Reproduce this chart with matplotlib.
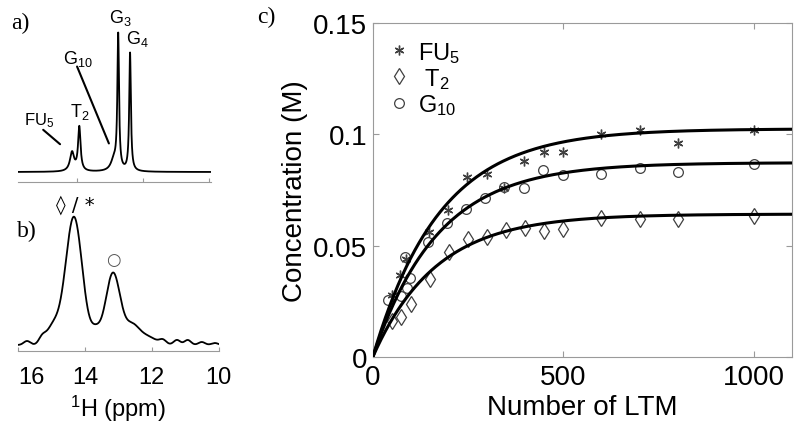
import numpy as np
import matplotlib.pyplot as plt

plt.rcParams['font.family'] = ['Liberation Sans', 'DejaVu Sans']
plt.rcParams['mathtext.default'] = 'regular'

# panel a: 1D spectrum peaks (ppm, height, width)
a_ppm = [14.15, 13.93, 12.88, 12.75, 12.39]
a_height = [19, 44, 11, 134, 118]
a_width = [0.15, 0.09, 0.22, 0.06, 0.06]
a_names = ['FU$_5$', 'T$_2$', 'G$_{10}$', 'G$_3$', 'G$_4$']

# panel b: broadened spectrum components (ppm, height, sigma)
b_ppm = [14.33, 14.95, 13.68, 13.16, 12.6, 12.2,
         15.73, 15.28, 11.67, 11.25, 10.93, 10.51, 10.12]
b_height = [128, 18, 12, 72, 16, 9,
            4, 6, 4, 5, 5, 3, 2]
b_sigma = [0.25, 0.2, 0.15, 0.22, 0.2, 0.3,
           0.1, 0.1, 0.1, 0.1, 0.1, 0.1, 0.1]

# panel c: concentrations vs number of LTM
ltm = [50, 75, 100, 150, 200, 250, 300, 350, 400, 450, 500, 600, 700, 800, 1000]
fu5_x = [50, 72, 86, 147, 197, 248, 299, 345, 397, 448, 498, 598, 700, 802, 1000]
fu5 = [0.028, 0.037, 0.044, 0.056, 0.066, 0.081, 0.082, 0.076, 0.088, 0.092,
       0.092, 0.100, 0.102, 0.096, 0.102]
g10_x = [40, 75, 84, 89, 97, 146, 196, 245, 295, 345, 396, 446, 498, 598, 700, 802, 1000]
g10 = [0.0254, 0.0276, 0.045, 0.031, 0.0356, 0.0517, 0.060, 0.0667, 0.0712,
       0.0764, 0.0761, 0.0842, 0.0817, 0.0823, 0.085, 0.083, 0.0868]
t2 = [0.016, 0.018, 0.024, 0.035, 0.047, 0.053, 0.054, 0.057, 0.058, 0.0566,
      0.0577, 0.0625, 0.0622, 0.0622, 0.0634]
# fitted curves: A * (1 - exp(-n / tau))
fit_A = [0.1025, 0.0873, 0.0642]
fit_tau = [175, 170, 165]

fig = plt.figure(figsize=(8, 4.27), dpi=100)
gray = '#9a9a9a'

# ---- panel a
axa = fig.add_axes([0.0225, 0.5714, 0.241, 0.417])
xa = np.linspace(15.79, 9.94, 2000)
ya = np.full_like(xa, 10.0)
for p, h, w in zip(a_ppm, a_height, a_width):
    ya += h / (1 + ((xa - p) / (w / 2)) ** 2)
axa.plot(xa, ya, color='black', lw=1.3)
axa.set_xlim(15.79, 9.94)
axa.set_ylim(0, 178)
axa.set_xticks([14, 12, 10])
axa.set_xticklabels([])
axa.set_yticks([])
for s in ['top', 'left', 'right']:
    axa.spines[s].set_visible(False)
axa.spines['bottom'].set_color(gray)
axa.tick_params(axis='x', direction='in', length=3, color=gray)
axa.text(12.67, 165, a_names[3], fontsize=13, ha='center', va='center')
axa.text(12.18, 144, a_names[4], fontsize=13, ha='center', va='center')
axa.text(13.97, 124, a_names[2], fontsize=13, ha='center', va='center')
axa.text(13.90, 71, a_names[1], fontsize=13, ha='center', va='center')
axa.text(15.14, 62, a_names[0], fontsize=12, ha='center', va='center')
axa.annotate('', xy=(13.0, 36), xytext=(14.03, 118),
             arrowprops=dict(arrowstyle='-', lw=1.5, color='black'))
axa.annotate('', xy=(14.45, 36), xytext=(15.09, 54),
             arrowprops=dict(arrowstyle='-', lw=1.5, color='black'))
fig.text(0.026, 0.944, 'a)', fontsize=17, family='Liberation Serif', ha='center', va='center')

# ---- panel b
axb = fig.add_axes([0.0225, 0.1756, 0.251, 0.38])
xb = np.linspace(16, 10, 1200)
yb = np.full_like(xb, 6.0)
for p, h, s in zip(b_ppm, b_height, b_sigma):
    yb += h * np.exp(-(xb - p) ** 2 / (2 * s ** 2))
axb.plot(xb, yb, color='black', lw=1.3)
axb.set_xlim(16, 10)
axb.set_ylim(0, 162)
axb.set_xticks([16, 14, 12, 10])
axb.set_yticks([])
for s in ['top', 'left', 'right']:
    axb.spines[s].set_visible(False)
axb.spines['bottom'].set_color(gray)
axb.tick_params(axis='x', direction='in', length=3, color=gray,
                labelsize=17, pad=11)
axb.get_xticklabels()[0].set_ha('left')
axb.set_xlabel('$^1$H (ppm)', fontsize=17, labelpad=3)
axb.text(14.28, 147, '\u25ca / *', fontsize=14, ha='center', va='center',
         family=['DejaVu Sans'])
axb.text(13.16, 92, '\u25cb', fontsize=12, ha='center', va='center',
         color='#555555', family=['DejaVu Sans'])
fig.text(0.034, 0.457, 'b)', fontsize=17, family='Liberation Serif', ha='center', va='center')

# ---- panel c
axc = fig.add_axes([0.466, 0.1616, 0.524, 0.782])
n = np.linspace(0, 1100, 400)
for A, tau in zip(fit_A, fit_tau):
    axc.plot(n, A * (1 - np.exp(-n / tau)), color='black', lw=2.2, zorder=3)
mk = '#404040'
h1, = axc.plot(fu5_x, fu5, ls='none', marker=(6, 2, 0), ms=7, mec=mk, mew=1.0,
               label='FU$_5$', zorder=2)
h2, = axc.plot(ltm, t2, ls='none', marker='d', ms=8, mfc='none', mec=mk, mew=0.9,
               label=' T$_2$', zorder=2)
h3, = axc.plot(g10_x, g10, ls='none', marker='o', ms=7, mfc='none', mec=mk, mew=0.9,
               label='G$_{10}$', zorder=2)
axc.set_xlim(0, 1100)
axc.set_ylim(0, 0.15)
axc.set_xticks([0, 500, 1000])
axc.set_yticks([0, 0.05, 0.1, 0.15])
axc.set_yticklabels(['0', '0.05', '0.1', '0.15'])
for s in axc.spines.values():
    s.set_color(gray)
axc.tick_params(direction='in', length=4, color=gray, labelsize=20,
                top=True, right=True)
axc.tick_params(axis='x', pad=5)
axc.tick_params(axis='y', pad=4)
axc.set_xlabel('Number of LTM', fontsize=20, labelpad=3)
axc.set_ylabel('Concentration (M)', fontsize=20, labelpad=4)
axc.legend(handles=[h1, h2, h3], loc='upper left', frameon=False, fontsize=17,
           handlelength=0.8, handletextpad=0.4, labelspacing=0.05,
           borderaxespad=0.3)
fig.text(0.333, 0.96, 'c)', fontsize=17, family='Liberation Serif', ha='center', va='center')

fig.savefig('out.png', dpi=100)
